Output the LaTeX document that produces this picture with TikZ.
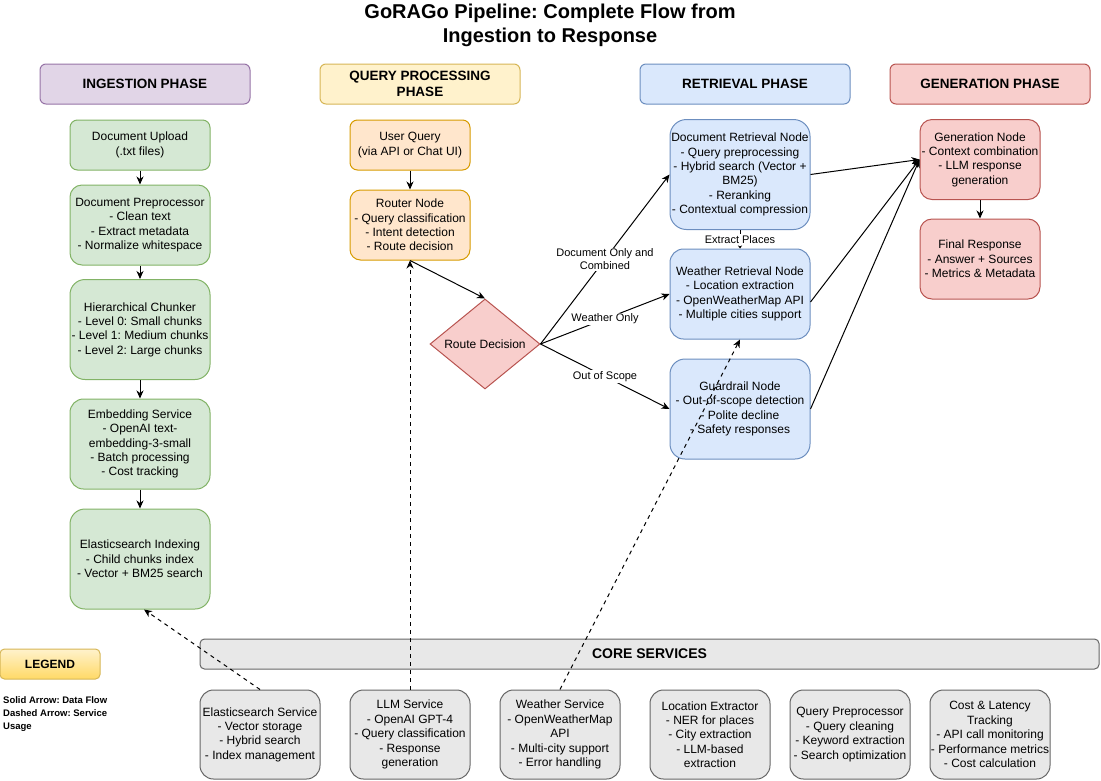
\documentclass[tikz,border=0pt]{standalone}
\usepackage{fontspec}
\setmainfont{Liberation Sans}
\usetikzlibrary{shapes.geometric,arrows.meta}
\frenchspacing

\definecolor{ingfill}{HTML}{D5E8D4}
\definecolor{ingline}{HTML}{82B366}
\definecolor{qryfill}{HTML}{FFE6CC}
\definecolor{qryline}{HTML}{D79B00}
\definecolor{retfill}{HTML}{DAE8FC}
\definecolor{retline}{HTML}{6C8EBF}
\definecolor{genfill}{HTML}{F8CECC}
\definecolor{genline}{HTML}{B85450}
\definecolor{phfill}{HTML}{E1D5E7}
\definecolor{phline}{HTML}{9673A6}
\definecolor{ylwfill}{HTML}{FFF2CC}
\definecolor{ylwdark}{HTML}{FFD966}
\definecolor{ylwline}{HTML}{D6B656}
\definecolor{svcfill}{HTML}{E8E8E8}
\definecolor{svcline}{HTML}{666666}

\begin{document}
\begin{tikzpicture}
	[x=1pt, y=-1pt,
	box/.style ={rectangle, draw, line width=1pt, align=center, inner sep=0pt, font=\fontsize{12}{14.4}\selectfont},
	ing/.style ={box, draw=ingline, fill=ingfill, minimum width=140pt},
	qry/.style ={box, draw=qryline, fill=qryfill, minimum width=120pt},
	ret/.style ={box, draw=retline, fill=retfill, minimum width=140pt},
	gen/.style ={box, draw=genline, fill=genfill, minimum width=120pt},
	svc/.style ={box, draw=svcline, fill=svcfill, minimum width=120pt, minimum height=89pt, rounded corners=13.5pt},
	phase/.style ={box, minimum height=40pt, rounded corners=6pt, font=\fontsize{13.5}{16.5}\selectfont\bfseries},
	line/.style ={draw, line width=1pt, -{Stealth[length=8pt,width=7pt,inset=2.5pt]}},
	uses/.style ={line, dash pattern=on 4pt off 4pt},
	lbl/.style ={fill=white, inner sep=1pt, align=center, font=\fontsize{11}{13.2}\selectfont}]
	\useasboundingbox (0,0) rectangle (1101,780);
	\node[font=\fontsize{20}{24}\selectfont\bfseries, align=center] (title) at (550,25) {GoRAGo Pipeline: Complete Flow from\\Ingestion to Response};
	% phase headers
	\node[phase, draw=phline, fill=phfill, minimum width=210pt] (ingh) at (145,84) {INGESTION PHASE};
	\node[phase, draw=ylwline, fill=ylwfill, minimum width=200pt] (qryh) at (420,84) {QUERY PROCESSING\\PHASE};
	\node[phase, draw=retline, fill=retfill, minimum width=210pt] (reth) at (745,84) {RETRIEVAL PHASE};
	\node[phase, draw=genline, fill=genfill, minimum width=200pt] (genh) at (990,84) {GENERATION PHASE};
	% ingestion
	\node[ing, minimum height=50pt, rounded corners=7.5pt] (upload) at (140,145) {Document Upload\\(.txt files)};
	\node[ing, minimum height=80pt, rounded corners=12pt] (prep) at (140,225) {Document Preprocessor\\- Clean text\\- Extract metadata\\- Normalize whitespace};
	\node[ing, minimum height=100pt, rounded corners=15pt] (chunk) at (140,329.5) {Hierarchical Chunker\\- Level 0: Small chunks\\- Level 1: Medium chunks\\- Level 2: Large chunks};
	\node[ing, minimum height=90pt, rounded corners=13.5pt] (embed) at (140,444) {Embedding Service\\- OpenAI text-\\embedding-3-small\\- Batch processing\\- Cost tracking};
	\node[ing, minimum height=100pt, rounded corners=15pt] (esidx) at (140,559) {Elasticsearch Indexing\\- Child chunks index\\- Vector + BM25 search};
	% query processing
	\node[qry, minimum height=50pt, rounded corners=7.5pt] (uquery) at (410,145) {User Query\\(via API or Chat UI)};
	\node[qry, minimum height=70pt, rounded corners=10.5pt] (router) at (410,225) {Router Node\\- Query classification\\- Intent detection\\- Route decision};
	\node[box, diamond, aspect=1.222, draw=genline, fill=genfill, minimum width=110pt, minimum height=90pt] (route) at (485,344) {Route Decision};
	% retrieval
	\node[ret, minimum height=110pt, rounded corners=16.5pt] (dret) at (740,174.5) {Document Retrieval Node\\- Query preprocessing\\- Hybrid search (Vector +\\BM25)\\- Reranking\\- Contextual compression};
	\node[ret, minimum height=90pt, rounded corners=13.5pt] (wret) at (740,294) {Weather Retrieval Node\\- Location extraction\\- OpenWeatherMap API\\- Multiple cities support};
	\node[ret, minimum height=100pt, rounded corners=15pt] (guard) at (740,409) {Guardrail Node\\- Out-of-scope detection\\- Polite decline\\- Safety responses};
	% generation
	\node[gen, minimum height=80pt, rounded corners=12pt] (gnode) at (980,159.5) {Generation Node\\- Context combination\\- LLM response\\generation};
	\node[gen, minimum height=80pt, rounded corners=12pt] (final) at (980,259) {Final Response\\- Answer + Sources\\- Metrics \& Metadata};
	% core services
	\node[box, draw=svcline, fill=svcfill, minimum width=899pt, minimum height=30pt, rounded corners=4.5pt, font=\fontsize{14}{17}\selectfont\bfseries] (core) at (649.5,654) {CORE SERVICES};
	\node[svc] (esserv) at (260,734.5) {Elasticsearch Service\\- Vector storage\\- Hybrid search\\- Index management};
	\node[svc] (llm) at (410,734.5) {LLM Service\\- OpenAI GPT-4\\- Query classification\\- Response\\generation};
	\node[svc] (wserv) at (560,734.5) {Weather Service\\- OpenWeatherMap\\API\\- Multi-city support\\- Error handling};
	\node[svc] (locx) at (710,734.5) {Location Extractor\\- NER for places\\- City extraction\\- LLM-based\\extraction};
	\node[svc] (qprep) at (850,734.5) {Query Preprocessor\\- Query cleaning\\- Keyword extraction\\- Search optimization};
	\node[svc] (cost) at (990,734.5) {Cost \& Latency\\Tracking\\- API call monitoring\\- Performance metrics\\- Cost calculation};
	% legend
	\node[box, draw=ylwline, top color=ylwfill, bottom color=ylwdark, minimum width=100pt, minimum height=30pt, rounded corners=4.5pt, font=\fontsize{12}{14.4}\selectfont\bfseries] (legend) at (50,664) {LEGEND};
	\node[anchor=west, align=left, inner sep=0pt, font=\fontsize{9.5}{13}\selectfont\bfseries] (legtext) at (3,714) {Solid Arrow: Data Flow\\Dashed Arrow: Service\\Usage};
	% data flow
	\draw[line] (upload) -- (prep);
	\draw[line] (prep) -- (chunk);
	\draw[line] (chunk) -- (embed);
	\draw[line] (embed) -- (esidx);
	\draw[line] (uquery) -- (router);
	\draw[line] (router.south) -- (route.north);
	\draw[line] (route.east) -- node[lbl] {Document Only and\\Combined} (dret.west);
	\draw[line] (route.east) -- node[lbl] {Weather Only} (wret.west);
	\draw[line] (route.east) -- node[lbl] {Out of Scope} (guard.west);
	\draw[line] (dret.east) -- (gnode.west);
	\draw[line] ([yshift=-8pt]wret.east) -- (gnode.west);
	\draw[line] (guard.east) -- (gnode.west);
	\draw[line] (gnode) -- (final);
	\draw[uses, -{Stealth[length=3pt,width=4pt]}] (dret) -- node[lbl] {Extract Places} (wret);
	% service usage
	\draw[uses] (esserv.north) -- ([xshift=4pt]esidx.south);
	\draw[uses] (llm.north) -- (router.south);
	\draw[uses] (wserv.north) -- (wret.south);
\end{tikzpicture}
\end{document}
